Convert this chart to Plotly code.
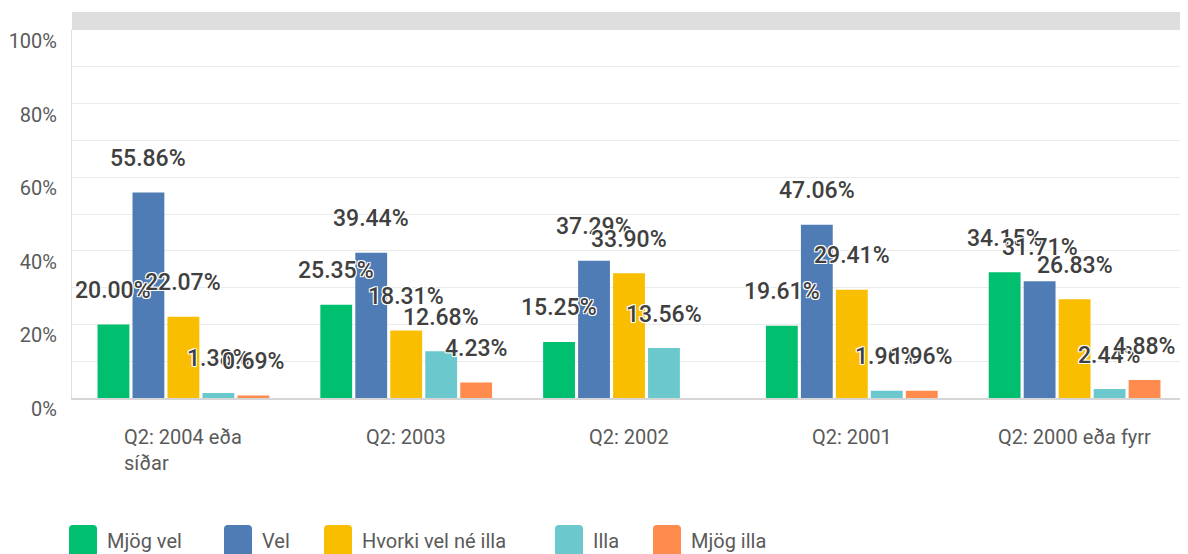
import plotly.graph_objects as go

# ---------------- data ----------------
categories = ["Q2: 2004 eða<br>síðar", "Q2: 2003", "Q2: 2002", "Q2: 2001", "Q2: 2000 eða fyrr"]
series_names = ["Mjög vel", "Vel", "Hvorki vel né illa", "Illa", "Mjög illa"]
mjog_vel = [20.00, 25.35, 15.25, 19.61, 34.15]
vel = [55.86, 39.44, 37.29, 47.06, 31.71]
hvorki = [22.07, 18.31, 33.90, 29.41, 26.83]
illa = [1.38, 12.68, 13.56, 1.96, 2.44]
mjog_illa = [0.69, 4.23, 0.00, 1.96, 4.88]
y_tick_values = [0, 20, 40, 60, 80, 100]
y_tick_labels = ["0%", "20%", "40%", "60%", "80%", "100%"]

series_values = [mjog_vel, vel, hvorki, illa, mjog_illa]
colors = ["#00BF6F", "#507CB6", "#F9BE00", "#6BC8CD", "#FF8B4F"]

# ---------------- layout constants (page pixels) ----------------
PAGE_W, PAGE_H = 1188, 554
OFF = 8                      # default body margin of the html page
W, H = PAGE_W - OFF, PAGE_H - OFF
PLOT_LEFT, PLOT_TOP, PLOT_BOTTOM, PLOT_RIGHT = 72, 30, 398, 1186
L, T = PLOT_LEFT - OFF, PLOT_TOP - OFF
R = PAGE_W - PLOT_RIGHT
B = PAGE_H - PLOT_BOTTOM
PW, PH = PLOT_RIGHT - PLOT_LEFT, PLOT_BOTTOM - PLOT_TOP
BARGAP, GROUPGAP = 0.215, 0.09
slot_px = PW / len(categories) * (1 - BARGAP) / len(series_names)

FONT = "Roboto"
LABEL_COLOR = "#404040"
AXIS_TEXT = "#5a5a5a"
outline = "-1px -1px 0 #fff, 1px -1px 0 #fff, -1px 1px 0 #fff, 1px 1px 0 #fff"


def px_x(px):
    return (px - PLOT_LEFT) / PW


def px_y(py):
    return (PLOT_BOTTOM - py) / PH


fig = go.Figure()
for name, vals, col in zip(series_names, series_values, colors):
    fig.add_trace(go.Bar(x=categories, y=vals, name=name, marker=dict(color=col, line=dict(width=0)),
                         showlegend=False, hovertemplate="%{y:.2f}%<extra>" + name + "</extra>"))

annotations = []
# value labels above the bars
n = len(series_names)
for j, vals in enumerate(series_values):
    for cat, v in zip(categories, vals):
        if v <= 0:
            continue
        annotations.append(dict(
            x=cat, y=v, xref="x", yref="y", text=f"{v:.2f}%", showarrow=False,
            xshift=(j - (n - 1) / 2) * slot_px, yshift=34, yanchor="middle", xanchor="center",
            font=dict(family=FONT, size=23, weight=500, color=LABEL_COLOR, shadow=outline)))

# category labels
for cat in categories:
    annotations.append(dict(
        x=cat, y=0, xref="x", yref="paper", text=cat, showarrow=False, align="left",
        xanchor="center", yanchor="top", yshift=-25,
        font=dict(family=FONT, size=20, color=AXIS_TEXT)))

# custom legend
square_left = [69, 224, 324, 555, 653]
legend_cy = 542
shapes = [dict(type="rect", xref="paper", yref="paper", x0=0, x1=1, y0=1, y1=1 + 18 / PH,
               fillcolor="#dedede", line=dict(width=0), layer="below")]
r = 4
hw, hh = 14, 17
rounded = (f"M {-hw + r},{-hh} L {hw - r},{-hh} Q {hw},{-hh} {hw},{-hh + r} L {hw},{hh - r} "
           f"Q {hw},{hh} {hw - r},{hh} L {-hw + r},{hh} Q {-hw},{hh} {-hw},{hh - r} "
           f"L {-hw},{-hh + r} Q {-hw},{-hh} {-hw + r},{-hh} Z")
for name, col, sx in zip(series_names, colors, square_left):
    shapes.append(dict(type="path", xref="paper", yref="paper", xsizemode="pixel", ysizemode="pixel",
                       xanchor=px_x(sx + hw), yanchor=px_y(legend_cy), path=rounded,
                       fillcolor=col, line=dict(width=0)))
    annotations.append(dict(x=px_x(sx + 2 * hw + 8), y=px_y(541), xref="paper", yref="paper",
                            text=name, showarrow=False, xanchor="left", yanchor="middle",
                            font=dict(family=FONT, size=20, color=AXIS_TEXT)))

fig.update_layout(
    width=W, height=H,
    margin=dict(l=L, r=R, t=T, b=B, autoexpand=False),
    paper_bgcolor="white", plot_bgcolor="white",
    barmode="group", bargap=BARGAP, bargroupgap=GROUPGAP,
    showlegend=False,
    font=dict(family=FONT, color=AXIS_TEXT),
    xaxis=dict(showticklabels=False, showgrid=False, zeroline=False, showline=True,
               linecolor="#d6d6d6", linewidth=2, fixedrange=True),
    yaxis=dict(range=[0, 100], tickvals=y_tick_values, ticktext=y_tick_labels,
               showgrid=True, gridcolor="#ebebeb", gridwidth=1, zeroline=False,
               showline=True, linecolor="#e0e0e0", linewidth=1,
               minor=dict(tickvals=[10, 30, 50, 70, 90], showgrid=True, gridcolor="#ebebeb"),
               tickfont=dict(family=FONT, size=20, color=AXIS_TEXT),
               ticklabelstandoff=10, ticklabelshift=11, ticklabeloverflow="allow",
               fixedrange=True),
    annotations=annotations,
    shapes=shapes,
)

fig.write_html("out.html")
